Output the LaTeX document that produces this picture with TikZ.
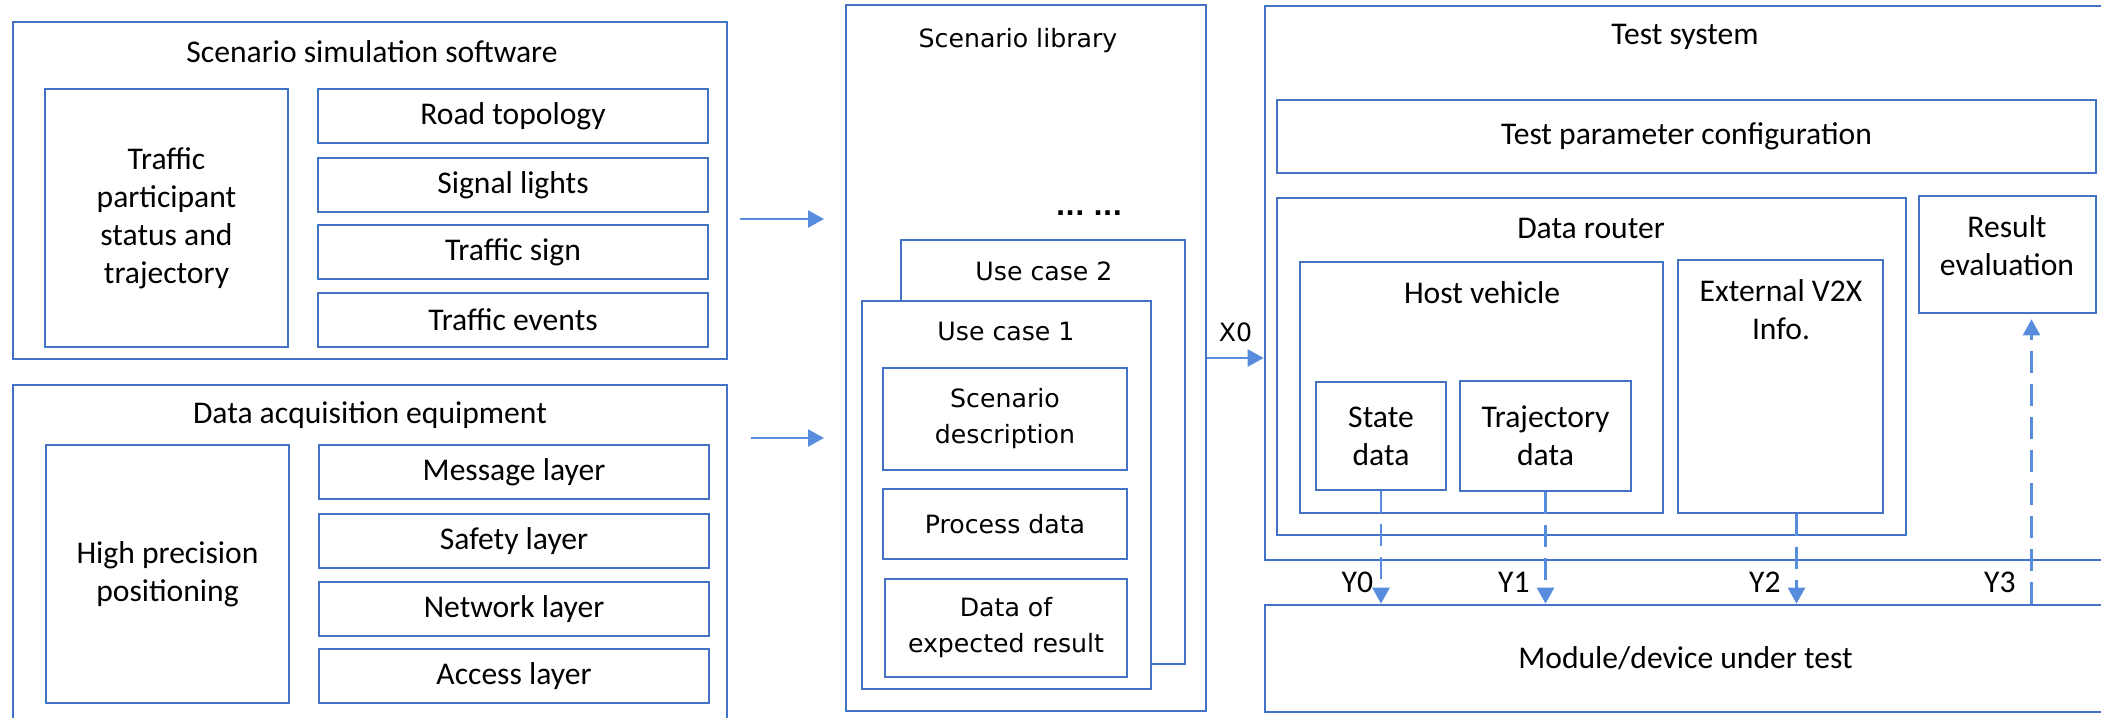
\documentclass[tikz,border=0pt]{standalone}
\usepackage{fontspec}
\setmainfont{Carlito}
\newfontfamily\verdfont{DejaVu Sans}
\usepackage{tikz}
\usetikzlibrary{arrows.meta}
\definecolor{boxblue}{RGB}{68,114,196}
\definecolor{arrblue}{RGB}{88,141,222}

\begin{document}
\begin{tikzpicture}[x=0.5pt,y=-0.5pt,font=\fontsize{15.8}{19}\selectfont,
	box/.style={draw=boxblue,line width=1.3pt,inner sep=0pt,align=center},
	corners/.style args={#1/#2/#3/#4}{minimum width={0.5pt*(#3-#1)},minimum height={0.5pt*(#4-#2)},
		at={({(#1+#3)/2},{(#2+#4)/2})}},
	vtxt/.style={font=\verdfont\fontsize{12.6}{18}\selectfont},
	flow/.style={arrblue,text=black,line width=1.2pt,-{Triangle[width=8.5pt,length=8pt]}},
	dflow/.style={flow,dash pattern=on 11pt off 5.5pt}]
		\useasboundingbox (0,0) rectangle (2101,718);
		\clip (0,0) rectangle (2101,718);
		% scenario simulation software
		\node[box,corners=13/22/727/359] (sim) {};
		\node (simtitle) at (372,52) {Scenario simulation software};
		\node[box,corners=45/89/288/347] (trafpart) {Traffic\\participant\\status and\\trajectory};
		\node[box,corners=318/89/708/143] (road) {Road topology};
		\node[box,corners=318/158/708/212] (signal) {Signal lights};
		\node[box,corners=318/225/708/279] (sign) {Traffic sign};
		\node[box,corners=318/293/708/347] (events) {Traffic events};
		% data acquisition equipment
		\node[box,corners=13/385/727/740] (acq) {};
		\node (acqtitle) at (370,415) {Data acquisition equipment};
		\node[box,corners=46/445/289/703] (hipos) {High precision\\positioning};
		\node[box,corners=319/445/709/499] (msg) {Message layer};
		\node[box,corners=319/514/709/568] (safety) {Safety layer};
		\node[box,corners=319/582/709/636] (network) {Network layer};
		\node[box,corners=319/649/709/703] (access) {Access layer};
		% scenario library
		\node[box,corners=846/5/1206/711] (lib) {};
		\node[vtxt] (libtitle) at (1018,41) {Scenario library};
		\node[vtxt] (dots) at (1089,213) {\bfseries ...\ ...};
		\node[box,corners=901/240/1185/664] (uc2) {};
		\node[vtxt] (uc2title) at (1044,271) {Use case 2};
		\node[box,fill=white,corners=862/301/1151/689] (uc1) {};
		\node[vtxt] (uc1title) at (1006,331) {Use case 1};
		\node[box,vtxt,corners=883/368/1127/470] (scdesc) {Scenario\\description};
		\node[box,vtxt,corners=883/489/1127/559] (procdata) {Process data};
		\node[box,vtxt,corners=885/579/1127/677] (expres) {Data of\\expected result};
		% test system
		\node[box,corners=1265/6/2106/560] (test) {};
		\node (testtitle) at (1685,37) {Test system};
		\node[box,corners=1277/100/2096/173] (param) {Test parameter configuration};
		\node[box,corners=1277/198/1906/535] (router) {};
		\node (routertitle) at (1591,228) {Data router};
		\node[box,corners=1300/262/1663/513] (host) {};
		\node (hosttitle) at (1482,293) {Host vehicle};
		\node[box,corners=1316/382/1446/490] (state) {State\\data};
		\node[box,corners=1460/381/1631/491] (traj) {Trajectory\\data};
		\node[box,corners=1678/260/1883/513] (ext) {};
		\node[align=center] (exttitle) at (1781,310) {External V2X\\Info.};
		\node[box,corners=1919/196/2096/313] (result) {};
		\node[align=center] (resulttitle) at (2007,246) {Result\\evaluation};
		\node[box,corners=1265/605/2106/712] (dut) {Module/device under test};
		%
		\coordinate (simout) at (740,219);
		\coordinate (libin) at (824,219);
		\coordinate (acqout) at (751,438);
		\coordinate (libin2) at (824,438);
		\coordinate (y2top) at ([xshift=8pt]ext.south);
		\coordinate (y3top) at ([xshift=12pt,yshift=-2.5pt]result.south);
		%
		\path[flow]
		(simout) edge (libin)
		(acqout) edge (libin2)
		(lib.east) edge node[above=4pt,vtxt]{X0} (lib.east -| test.west);
		\path[dflow]
		(state.south) edge node[pos=0.81,left]{Y0} (state.south |- dut.north)
		(traj.south) edge node[pos=0.81,left=4pt]{Y1} (traj.south |- dut.north)
		(y2top) edge node[pos=0.76,left=4pt]{Y2} (y2top |- dut.north)
		(y3top |- dut.north) edge node[pos=0.076,left=4pt]{Y3} (y3top);
		\end{tikzpicture}
\end{document}
